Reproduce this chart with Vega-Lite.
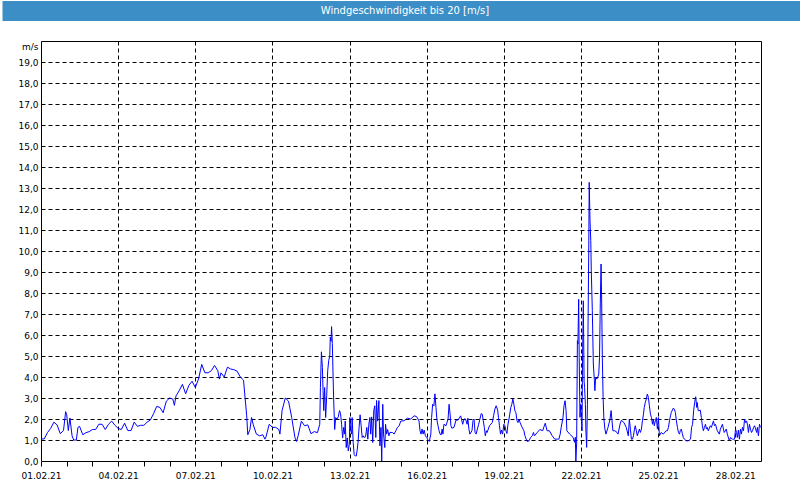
{
"$schema": "https://vega.github.io/schema/vega-lite/v6.json",
"padding": 0,
"spacing": 19,
"background": "white",
"config": {"view": {"stroke": "black", "strokeWidth": 1}},
"vconcat": [
{
"width": 760, "height": 20,
"view": {"fill": "#3c8fc6", "stroke": null},
"data": {"values": [{"label": "Windgeschwindigkeit bis 20 [m/s]", "p": 10}]},
"mark": {"type": "text", "color": "white", "font": "DejaVu Sans", "fontSize": 10, "dx": -16},
"encoding": {
"text": {"field": "label"},
"y": {"field": "p", "type": "quantitative", "scale": {"domain": [0, 20], "nice": false},
"axis": {"title": null, "labels": false, "domain": false, "grid": false,
"values": [1,2,3,4,5,6,7,8,9,10,11,12,13,14,15,16,17,18,19,20],
"tickSize": 39, "tickWidth": 1, "tickColor": "#3c8fc6", "tickCap": "butt"}}
}
},
{
"width": 720, "height": 420,
"data": {"values": [
{"t":"2021-02-01T00:00","v":1.05},{"t":"2021-02-01T03:00","v":1.05},{"t":"2021-02-01T06:00","v":1.35},{"t":"2021-02-01T09:00","v":1.55},{"t":"2021-02-01T12:00","v":1.85},{"t":"2021-02-01T15:00","v":1.72},{"t":"2021-02-01T18:00","v":1.3},{"t":"2021-02-01T21:00","v":1.45},{"t":"2021-02-01T23:00","v":2.35},
{"t":"2021-02-02T00:00","v":2.2},{"t":"2021-02-02T01:30","v":1.45},{"t":"2021-02-02T03:00","v":2.05},{"t":"2021-02-02T05:00","v":1.2},{"t":"2021-02-02T06:30","v":1.0},{"t":"2021-02-02T09:00","v":1.0},{"t":"2021-02-02T10:30","v":1.6},{"t":"2021-02-02T12:00","v":1.65},{"t":"2021-02-02T15:00","v":1.25},{"t":"2021-02-02T18:00","v":1.35},{"t":"2021-02-02T21:00","v":1.4},
{"t":"2021-02-03T00:00","v":1.5},{"t":"2021-02-03T03:00","v":1.5},{"t":"2021-02-03T06:00","v":1.75},{"t":"2021-02-03T09:00","v":1.75},{"t":"2021-02-03T12:00","v":1.5},{"t":"2021-02-03T15:00","v":1.75},{"t":"2021-02-03T18:00","v":1.9},{"t":"2021-02-03T21:00","v":1.7},
{"t":"2021-02-04T00:00","v":1.55},{"t":"2021-02-04T03:00","v":1.5},{"t":"2021-02-04T06:00","v":1.8},{"t":"2021-02-04T09:00","v":1.45},{"t":"2021-02-04T12:00","v":1.45},{"t":"2021-02-04T15:00","v":1.85},{"t":"2021-02-04T18:00","v":1.65},{"t":"2021-02-04T21:00","v":1.7},
{"t":"2021-02-05T00:00","v":1.7},{"t":"2021-02-05T03:00","v":1.85},{"t":"2021-02-05T06:00","v":1.95},{"t":"2021-02-05T09:00","v":2.25},{"t":"2021-02-05T12:00","v":2.6},{"t":"2021-02-05T15:00","v":2.55},{"t":"2021-02-05T18:00","v":2.3},{"t":"2021-02-05T21:00","v":2.85},
{"t":"2021-02-06T00:00","v":3.0},{"t":"2021-02-06T03:00","v":2.95},{"t":"2021-02-06T04:30","v":2.65},{"t":"2021-02-06T06:00","v":3.1},{"t":"2021-02-06T09:00","v":3.35},{"t":"2021-02-06T12:00","v":3.65},{"t":"2021-02-06T15:00","v":3.2},{"t":"2021-02-06T18:00","v":3.6},{"t":"2021-02-06T21:00","v":3.8},
{"t":"2021-02-07T00:00","v":3.5},{"t":"2021-02-07T03:00","v":3.9},{"t":"2021-02-07T06:00","v":4.6},{"t":"2021-02-07T09:00","v":4.2},{"t":"2021-02-07T12:00","v":4.2},{"t":"2021-02-07T15:00","v":4.3},{"t":"2021-02-07T18:00","v":4.55},{"t":"2021-02-07T21:00","v":4.3},{"t":"2021-02-07T22:30","v":3.9},
{"t":"2021-02-08T00:00","v":4.2},{"t":"2021-02-08T03:00","v":4.0},{"t":"2021-02-08T06:00","v":4.47},{"t":"2021-02-08T09:00","v":4.38},{"t":"2021-02-08T12:00","v":4.35},{"t":"2021-02-08T15:00","v":4.28},{"t":"2021-02-08T18:00","v":4.0},{"t":"2021-02-08T21:00","v":3.85},{"t":"2021-02-08T22:30","v":3.0},
{"t":"2021-02-09T00:00","v":2.15},{"t":"2021-02-09T01:00","v":1.25},{"t":"2021-02-09T03:00","v":1.5},{"t":"2021-02-09T04:30","v":2.07},{"t":"2021-02-09T06:00","v":1.75},{"t":"2021-02-09T09:00","v":1.28},{"t":"2021-02-09T12:00","v":1.2},{"t":"2021-02-09T15:00","v":1.25},{"t":"2021-02-09T17:00","v":1.04},{"t":"2021-02-09T18:00","v":1.15},{"t":"2021-02-09T21:00","v":1.75},
{"t":"2021-02-10T00:00","v":1.6},{"t":"2021-02-10T03:00","v":1.6},{"t":"2021-02-10T06:00","v":1.5},{"t":"2021-02-10T07:00","v":1.28},{"t":"2021-02-10T09:00","v":2.4},{"t":"2021-02-10T12:00","v":3.0},{"t":"2021-02-10T15:00","v":2.85},{"t":"2021-02-10T18:00","v":2.07},{"t":"2021-02-10T21:00","v":1.12},{"t":"2021-02-10T22:30","v":0.93},
{"t":"2021-02-11T00:00","v":1.2},{"t":"2021-02-11T03:00","v":1.9},{"t":"2021-02-11T06:00","v":1.68},{"t":"2021-02-11T09:00","v":1.72},{"t":"2021-02-11T12:00","v":1.3},{"t":"2021-02-11T15:00","v":1.4},{"t":"2021-02-11T18:00","v":1.35},{"t":"2021-02-11T20:10","v":1.75},{"t":"2021-02-11T20:47","v":3.5},{"t":"2021-02-11T21:43","v":5.2},{"t":"2021-02-11T22:38","v":4.45},{"t":"2021-02-11T23:15","v":3.35},{"t":"2021-02-11T23:53","v":2.4},
{"t":"2021-02-12T00:43","v":3.5},{"t":"2021-02-12T01:41","v":2.07},{"t":"2021-02-12T02:38","v":3.1},{"t":"2021-02-12T03:36","v":4.3},{"t":"2021-02-12T04:34","v":4.8},{"t":"2021-02-12T05:31","v":5.0},{"t":"2021-02-12T06:00","v":5.9},{"t":"2021-02-12T06:43","v":5.7},{"t":"2021-02-12T07:12","v":6.4},{"t":"2021-02-12T07:55","v":5.6},{"t":"2021-02-12T08:38","v":4.0},{"t":"2021-02-12T09:07","v":3.0},{"t":"2021-02-12T10:05","v":1.5},{"t":"2021-02-12T11:02","v":2.07},{"t":"2021-02-12T12:14","v":2.0},{"t":"2021-02-12T13:26","v":2.1},{"t":"2021-02-12T14:38","v":2.4},{"t":"2021-02-12T15:36","v":2.25},{"t":"2021-02-12T16:34","v":1.75},{"t":"2021-02-12T17:31","v":1.1},{"t":"2021-02-12T18:29","v":1.6},{"t":"2021-02-12T19:26","v":1.28},{"t":"2021-02-12T19:55","v":1.9},{"t":"2021-02-12T20:53","v":0.64},{"t":"2021-02-12T21:50","v":1.1},{"t":"2021-02-12T22:48","v":0.48},{"t":"2021-02-12T23:46","v":0.8},
{"t":"2021-02-13T00:14","v":2.07},{"t":"2021-02-13T00:58","v":1.5},{"t":"2021-02-13T01:55","v":1.28},{"t":"2021-02-13T02:24","v":2.07},{"t":"2021-02-13T03:22","v":0.88},{"t":"2021-02-13T04:19","v":0.3},{"t":"2021-02-13T05:17","v":0.24},{"t":"2021-02-13T06:14","v":0.24},{"t":"2021-02-13T06:58","v":0.48},{"t":"2021-02-13T07:55","v":0.88},{"t":"2021-02-13T08:53","v":1.6},{"t":"2021-02-13T09:50","v":2.2},{"t":"2021-02-13T10:48","v":1.68},{"t":"2021-02-13T11:46","v":1.12},{"t":"2021-02-13T12:43","v":1.2},{"t":"2021-02-13T13:26","v":1.12},{"t":"2021-02-13T14:53","v":1.15},{"t":"2021-02-13T16:05","v":1.6},{"t":"2021-02-13T17:02","v":1.04},{"t":"2021-02-13T18:00","v":1.75},{"t":"2021-02-13T18:58","v":2.07},{"t":"2021-02-13T19:41","v":1.28},{"t":"2021-02-13T20:38","v":2.1},{"t":"2021-02-13T21:36","v":0.88},{"t":"2021-02-13T22:34","v":2.4},{"t":"2021-02-13T23:31","v":2.63},
{"t":"2021-02-14T00:29","v":1.12},{"t":"2021-02-14T01:12","v":2.88},{"t":"2021-02-14T02:10","v":1.9},{"t":"2021-02-14T03:22","v":2.88},{"t":"2021-02-14T04:19","v":0.72},{"t":"2021-02-14T05:17","v":1.6},{"t":"2021-02-14T06:00","v":0.0},{"t":"2021-02-14T06:58","v":2.7},{"t":"2021-02-14T07:41","v":1.28},{"t":"2021-02-14T08:53","v":0.64},{"t":"2021-02-14T09:36","v":1.75},{"t":"2021-02-14T10:34","v":1.28},{"t":"2021-02-14T11:31","v":1.5},{"t":"2021-02-14T12:43","v":1.2},{"t":"2021-02-14T13:41","v":1.36},{"t":"2021-02-14T16:05","v":1.36},{"t":"2021-02-14T17:31","v":1.28},{"t":"2021-02-14T19:12","v":1.44},{"t":"2021-02-14T20:38","v":1.6},{"t":"2021-02-14T22:19","v":1.68},{"t":"2021-02-14T23:46","v":1.9},
{"t":"2021-02-15T02:53","v":1.92},{"t":"2021-02-15T06:00","v":2.04},{"t":"2021-02-15T09:07","v":2.0},{"t":"2021-02-15T12:14","v":2.15},{"t":"2021-02-15T14:24","v":2.12},{"t":"2021-02-15T15:50","v":2.0},{"t":"2021-02-15T16:48","v":1.9},{"t":"2021-02-15T17:46","v":1.44},{"t":"2021-02-15T18:43","v":1.28},{"t":"2021-02-15T19:41","v":1.52},{"t":"2021-02-15T20:38","v":1.28},{"t":"2021-02-15T21:36","v":1.47},{"t":"2021-02-15T22:48","v":1.2},
{"t":"2021-02-16T00:00","v":1.12},{"t":"2021-02-16T01:12","v":1.0},{"t":"2021-02-16T02:24","v":0.93},{"t":"2021-02-16T03:50","v":1.28},{"t":"2021-02-16T04:34","v":2.07},{"t":"2021-02-16T05:31","v":2.7},{"t":"2021-02-16T06:43","v":2.63},{"t":"2021-02-16T07:41","v":3.2},{"t":"2021-02-16T08:38","v":2.55},{"t":"2021-02-16T09:36","v":1.92},{"t":"2021-02-16T10:34","v":1.68},{"t":"2021-02-16T11:31","v":1.44},{"t":"2021-02-16T12:29","v":1.28},{"t":"2021-02-16T13:26","v":1.24},{"t":"2021-02-16T14:24","v":1.52},{"t":"2021-02-16T15:07","v":1.28},{"t":"2021-02-16T16:05","v":1.75},{"t":"2021-02-16T18:00","v":1.68},{"t":"2021-02-16T19:55","v":2.0},{"t":"2021-02-16T20:53","v":2.7},{"t":"2021-02-16T21:50","v":2.23},{"t":"2021-02-16T22:34","v":1.68},{"t":"2021-02-16T23:31","v":1.56},
{"t":"2021-02-17T01:26","v":1.6},{"t":"2021-02-17T03:22","v":1.95},{"t":"2021-02-17T05:17","v":1.95},{"t":"2021-02-17T07:41","v":2.15},{"t":"2021-02-17T09:36","v":1.75},{"t":"2021-02-17T10:48","v":2.0},{"t":"2021-02-17T12:14","v":2.0},{"t":"2021-02-17T13:41","v":1.75},{"t":"2021-02-17T14:24","v":2.04},{"t":"2021-02-17T15:22","v":1.52},{"t":"2021-02-17T16:19","v":1.28},{"t":"2021-02-17T18:14","v":1.44},{"t":"2021-02-17T19:12","v":1.92},{"t":"2021-02-17T20:10","v":2.0},{"t":"2021-02-17T21:07","v":1.36},{"t":"2021-02-17T22:05","v":1.28},
{"t":"2021-02-18T00:29","v":1.75},{"t":"2021-02-18T02:53","v":2.26},{"t":"2021-02-18T03:50","v":2.23},{"t":"2021-02-18T04:48","v":1.92},{"t":"2021-02-18T05:46","v":1.6},{"t":"2021-02-18T06:43","v":1.2},{"t":"2021-02-18T07:41","v":1.44},{"t":"2021-02-18T08:24","v":1.36},{"t":"2021-02-18T10:34","v":1.68},{"t":"2021-02-18T13:12","v":1.83},{"t":"2021-02-18T14:24","v":2.15},{"t":"2021-02-18T15:36","v":2.47},{"t":"2021-02-18T16:48","v":2.63},{"t":"2021-02-18T18:14","v":2.42},{"t":"2021-02-18T18:58","v":2.07},{"t":"2021-02-18T19:55","v":1.68},{"t":"2021-02-18T20:53","v":1.28},{"t":"2021-02-18T21:50","v":1.47},{"t":"2021-02-18T22:48","v":1.28},
{"t":"2021-02-19T00:00","v":1.75},{"t":"2021-02-19T00:58","v":1.68},{"t":"2021-02-19T01:55","v":1.44},{"t":"2021-02-19T02:53","v":1.31},{"t":"2021-02-19T03:50","v":1.75},{"t":"2021-02-19T04:48","v":2.0},{"t":"2021-02-19T05:31","v":2.23},{"t":"2021-02-19T06:29","v":2.55},{"t":"2021-02-19T07:26","v":2.7},{"t":"2021-02-19T08:24","v":2.95},{"t":"2021-02-19T09:22","v":2.7},{"t":"2021-02-19T10:19","v":2.39},{"t":"2021-02-19T11:17","v":2.3},{"t":"2021-02-19T12:14","v":1.92},{"t":"2021-02-19T13:12","v":1.83},{"t":"2021-02-19T14:10","v":2.0},{"t":"2021-02-19T15:07","v":1.83},{"t":"2021-02-19T16:48","v":1.63},{"t":"2021-02-19T18:43","v":1.44},{"t":"2021-02-19T19:41","v":1.2},{"t":"2021-02-19T20:53","v":1.04},{"t":"2021-02-19T21:50","v":0.93},{"t":"2021-02-19T23:31","v":0.96},
{"t":"2021-02-20T00:58","v":1.12},{"t":"2021-02-20T02:38","v":1.2},{"t":"2021-02-20T03:36","v":1.36},{"t":"2021-02-20T04:34","v":1.2},{"t":"2021-02-20T07:12","v":1.36},{"t":"2021-02-20T09:36","v":1.5},{"t":"2021-02-20T12:14","v":1.44},{"t":"2021-02-20T13:26","v":1.63},{"t":"2021-02-20T14:38","v":1.8},{"t":"2021-02-20T16:19","v":1.44},{"t":"2021-02-20T18:29","v":1.44},{"t":"2021-02-20T21:07","v":1.2},{"t":"2021-02-20T23:31","v":1.04},
{"t":"2021-02-21T02:10","v":1.04},{"t":"2021-02-21T03:22","v":1.04},{"t":"2021-02-21T04:34","v":1.28},{"t":"2021-02-21T05:31","v":1.6},{"t":"2021-02-21T07:12","v":2.08},{"t":"2021-02-21T08:10","v":2.63},{"t":"2021-02-21T09:07","v":2.87},{"t":"2021-02-21T10:05","v":2.4},{"t":"2021-02-21T10:48","v":1.44},{"t":"2021-02-21T13:26","v":1.28},{"t":"2021-02-21T16:34","v":1.13},{"t":"2021-02-21T18:00","v":0.89},{"t":"2021-02-21T18:43","v":1.13},{"t":"2021-02-21T19:12","v":0.0},{"t":"2021-02-21T19:55","v":0.81},{"t":"2021-02-21T20:38","v":5.73},{"t":"2021-02-21T21:07","v":5.57},{"t":"2021-02-21T21:50","v":7.7},{"t":"2021-02-21T22:19","v":4.94},{"t":"2021-02-21T23:02","v":2.08},{"t":"2021-02-21T23:46","v":2.7},
{"t":"2021-02-22T00:14","v":2.08},{"t":"2021-02-22T00:58","v":1.44},{"t":"2021-02-22T01:26","v":4.9},{"t":"2021-02-22T02:10","v":7.63},{"t":"2021-02-22T02:53","v":3.8},{"t":"2021-02-22T03:22","v":3.51},{"t":"2021-02-22T04:05","v":2.7},{"t":"2021-02-22T04:34","v":1.44},{"t":"2021-02-22T05:17","v":0.65},{"t":"2021-02-22T06:00","v":2.7},{"t":"2021-02-22T06:29","v":5.9},{"t":"2021-02-22T07:12","v":9.86},{"t":"2021-02-22T07:41","v":13.27},{"t":"2021-02-22T08:24","v":11.44},{"t":"2021-02-22T09:07","v":10.5},{"t":"2021-02-22T09:36","v":9.06},{"t":"2021-02-22T10:34","v":7.16},{"t":"2021-02-22T11:31","v":4.62},{"t":"2021-02-22T12:29","v":3.83},{"t":"2021-02-22T12:58","v":3.35},{"t":"2021-02-22T13:41","v":3.98},{"t":"2021-02-22T14:38","v":3.9},{"t":"2021-02-22T15:36","v":3.98},{"t":"2021-02-22T16:34","v":4.14},{"t":"2021-02-22T17:17","v":4.94},{"t":"2021-02-22T18:00","v":7.48},{"t":"2021-02-22T18:43","v":9.38},{"t":"2021-02-22T19:12","v":7.95},{"t":"2021-02-22T19:55","v":4.94},{"t":"2021-02-22T20:38","v":3.03},{"t":"2021-02-22T21:22","v":2.0},{"t":"2021-02-22T22:19","v":1.52},{"t":"2021-02-22T23:17","v":1.28},
{"t":"2021-02-23T01:12","v":1.6},{"t":"2021-02-23T03:07","v":2.0},{"t":"2021-02-23T04:05","v":2.4},{"t":"2021-02-23T04:48","v":2.0},{"t":"2021-02-23T05:46","v":1.44},{"t":"2021-02-23T07:41","v":1.44},{"t":"2021-02-23T09:36","v":1.36},{"t":"2021-02-23T10:34","v":1.28},{"t":"2021-02-23T12:29","v":1.76},{"t":"2021-02-23T13:41","v":1.94},{"t":"2021-02-23T16:05","v":1.83},{"t":"2021-02-23T18:14","v":1.6},{"t":"2021-02-23T20:10","v":1.2},{"t":"2021-02-23T21:07","v":2.0},{"t":"2021-02-23T22:05","v":1.52},{"t":"2021-02-23T23:02","v":1.04},
{"t":"2021-02-24T00:00","v":1.04},{"t":"2021-02-24T00:58","v":1.2},{"t":"2021-02-24T01:55","v":1.52},{"t":"2021-02-24T02:38","v":1.68},{"t":"2021-02-24T03:36","v":1.44},{"t":"2021-02-24T04:34","v":1.2},{"t":"2021-02-24T06:29","v":1.52},{"t":"2021-02-24T07:26","v":1.36},{"t":"2021-02-24T08:24","v":1.52},{"t":"2021-02-24T09:22","v":1.92},{"t":"2021-02-24T10:19","v":2.23},{"t":"2021-02-24T11:02","v":2.55},{"t":"2021-02-24T12:00","v":2.79},{"t":"2021-02-24T12:58","v":2.95},{"t":"2021-02-24T13:55","v":3.19},{"t":"2021-02-24T14:53","v":3.03},{"t":"2021-02-24T15:50","v":2.63},{"t":"2021-02-24T16:48","v":2.23},{"t":"2021-02-24T17:46","v":2.07},{"t":"2021-02-24T18:43","v":1.75},{"t":"2021-02-24T19:26","v":2.0},{"t":"2021-02-24T20:24","v":1.68},{"t":"2021-02-24T21:22","v":1.91},{"t":"2021-02-24T22:19","v":2.07},{"t":"2021-02-24T23:17","v":1.52},
{"t":"2021-02-25T00:14","v":2.07},{"t":"2021-02-25T01:12","v":1.2},{"t":"2021-02-25T02:53","v":1.36},{"t":"2021-02-25T04:48","v":1.28},{"t":"2021-02-25T07:26","v":1.44},{"t":"2021-02-25T08:38","v":1.44},{"t":"2021-02-25T09:36","v":1.6},{"t":"2021-02-25T10:34","v":1.91},{"t":"2021-02-25T11:31","v":2.15},{"t":"2021-02-25T12:14","v":2.31},{"t":"2021-02-25T14:10","v":2.52},{"t":"2021-02-25T15:07","v":2.47},{"t":"2021-02-25T16:05","v":2.31},{"t":"2021-02-25T17:02","v":1.91},{"t":"2021-02-25T18:00","v":1.6},{"t":"2021-02-25T18:58","v":1.36},{"t":"2021-02-25T19:55","v":1.28},{"t":"2021-02-25T20:38","v":1.44},{"t":"2021-02-25T21:36","v":1.52},{"t":"2021-02-25T22:34","v":1.31},{"t":"2021-02-25T23:31","v":1.12},
{"t":"2021-02-26T00:29","v":1.04},{"t":"2021-02-26T02:24","v":0.96},{"t":"2021-02-26T04:05","v":0.96},{"t":"2021-02-26T06:14","v":1.04},{"t":"2021-02-26T07:12","v":1.6},{"t":"2021-02-26T08:10","v":1.75},{"t":"2021-02-26T09:07","v":2.39},{"t":"2021-02-26T10:05","v":2.79},{"t":"2021-02-26T11:02","v":3.06},{"t":"2021-02-26T12:00","v":2.55},{"t":"2021-02-26T12:29","v":2.79},{"t":"2021-02-26T13:26","v":2.39},{"t":"2021-02-26T15:22","v":2.42},{"t":"2021-02-26T16:19","v":2.07},{"t":"2021-02-26T17:17","v":1.68},{"t":"2021-02-26T18:14","v":1.44},{"t":"2021-02-26T19:12","v":1.6},{"t":"2021-02-26T20:10","v":1.75},{"t":"2021-02-26T21:07","v":1.52},{"t":"2021-02-26T21:50","v":1.6},{"t":"2021-02-26T22:48","v":1.44},
{"t":"2021-02-27T00:43","v":1.68},{"t":"2021-02-27T01:41","v":1.6},{"t":"2021-02-27T03:36","v":1.91},{"t":"2021-02-27T04:34","v":1.68},{"t":"2021-02-27T05:31","v":1.75},{"t":"2021-02-27T07:12","v":1.44},{"t":"2021-02-27T09:07","v":1.28},{"t":"2021-02-27T10:05","v":1.52},{"t":"2021-02-27T12:00","v":1.75},{"t":"2021-02-27T12:58","v":1.52},{"t":"2021-02-27T13:41","v":1.36},{"t":"2021-02-27T15:36","v":1.52},{"t":"2021-02-27T16:34","v":1.28},{"t":"2021-02-27T18:29","v":0.96},{"t":"2021-02-27T19:26","v":1.12},{"t":"2021-02-27T21:22","v":1.04},{"t":"2021-02-27T23:17","v":1.04},
{"t":"2021-02-28T00:14","v":1.52},{"t":"2021-02-28T01:12","v":1.36},{"t":"2021-02-28T01:55","v":1.12},{"t":"2021-02-28T02:53","v":1.47},{"t":"2021-02-28T03:50","v":1.04},{"t":"2021-02-28T04:48","v":1.52},{"t":"2021-02-28T05:46","v":1.28},{"t":"2021-02-28T06:43","v":1.6},{"t":"2021-02-28T07:41","v":1.44},{"t":"2021-02-28T08:38","v":2.0},{"t":"2021-02-28T09:36","v":1.83},{"t":"2021-02-28T10:34","v":1.91},{"t":"2021-02-28T11:31","v":1.68},{"t":"2021-02-28T12:14","v":1.36},{"t":"2021-02-28T13:12","v":1.75},{"t":"2021-02-28T14:10","v":1.52},{"t":"2021-02-28T15:07","v":1.36},{"t":"2021-02-28T16:05","v":1.44},{"t":"2021-02-28T17:02","v":1.6},{"t":"2021-02-28T18:00","v":1.68},{"t":"2021-02-28T18:58","v":1.52},{"t":"2021-02-28T19:55","v":1.36},{"t":"2021-02-28T20:38","v":1.6},{"t":"2021-02-28T21:36","v":1.2},{"t":"2021-02-28T22:34","v":1.75},{"t":"2021-02-28T23:31","v":1.6}
]},
"mark": {"type": "line", "color": "#0000ff", "strokeWidth": 1, "interpolate": "linear"},
"encoding": {
"x": {"field": "t", "type": "temporal",
"scale": {"domain": [{"year":2021,"month":2,"date":1},{"year":2021,"month":3,"date":1}], "nice": false},
"axis": {"title": null,
"values": [{"year":2021,"month":2,"date":1},{"year":2021,"month":2,"date":2},{"year":2021,"month":2,"date":3},{"year":2021,"month":2,"date":4},{"year":2021,"month":2,"date":5},{"year":2021,"month":2,"date":6},{"year":2021,"month":2,"date":7},{"year":2021,"month":2,"date":8},{"year":2021,"month":2,"date":9},{"year":2021,"month":2,"date":10},{"year":2021,"month":2,"date":11},{"year":2021,"month":2,"date":12},{"year":2021,"month":2,"date":13},{"year":2021,"month":2,"date":14},{"year":2021,"month":2,"date":15},{"year":2021,"month":2,"date":16},{"year":2021,"month":2,"date":17},{"year":2021,"month":2,"date":18},{"year":2021,"month":2,"date":19},{"year":2021,"month":2,"date":20},{"year":2021,"month":2,"date":21},{"year":2021,"month":2,"date":22},{"year":2021,"month":2,"date":23},{"year":2021,"month":2,"date":24},{"year":2021,"month":2,"date":25},{"year":2021,"month":2,"date":26},{"year":2021,"month":2,"date":27},{"year":2021,"month":2,"date":28}],
"format": "%d.%m.%y",
"labelExpr": "date(datum.value) % 3 == 1 ? datum.label : ''",
"labelOverlap": false, "labelFlush": false,
"labelFont": "DejaVu Sans", "labelFontSize": 9, "labelColor": "black", "labelPadding": 5,
"domain": false,
"tickColor": "black", "tickSize": 5, "tickWidth": 1,
"grid": true, "gridColor": "black", "gridDash": [4, 3], "gridWidth": 1,
"gridOpacity": {"condition": {"test": "date(datum.value) % 3 == 1 && date(datum.value) != 1", "value": 1}, "value": 0}
}},
"y": {"field": "v", "type": "quantitative",
"scale": {"domain": [0, 20], "nice": false, "zero": true},
"axis": {
"values": [0,1,2,3,4,5,6,7,8,9,10,11,12,13,14,15,16,17,18,19],
"labelExpr": "replace(format(datum.value, '.1f'), '.', ',')",
"labelOverlap": false, "labelFlush": false,
"labelFont": "DejaVu Sans", "labelFontSize": 9, "labelColor": "black",
"domain": false,
"tickSize": 40, "tickOpacity": 0, "labelPadding": -37,
"grid": true, "gridColor": "black", "gridDash": [4, 3], "gridWidth": 1,
"gridOpacity": {"condition": {"test": "datum.value == 0", "value": 0}, "value": 1},
"title": "m/s", "titleAngle": 0, "titleAlign": "right", "titleBaseline": "middle",
"titleX": -3, "titleY": 5, "titleFont": "DejaVu Sans", "titleFontSize": 9, "titleFontWeight": "normal", "titleColor": "black"
}}
}
}
]
}
